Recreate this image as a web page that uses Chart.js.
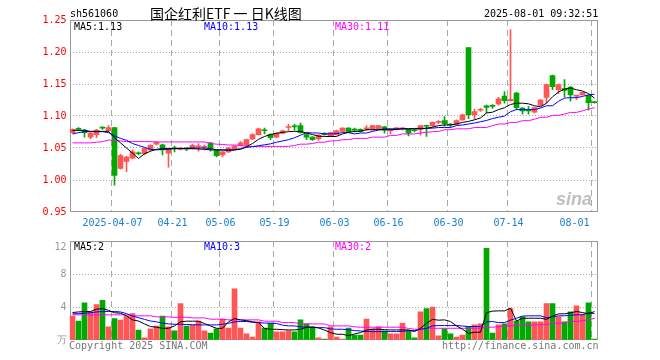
<!DOCTYPE html>
<html><head><meta charset="utf-8">
<script src="https://cdn.jsdelivr.net/npm/chart.js@4.4.1/dist/chart.umd.min.js"></script>
<style>
html,body{margin:0;padding:0;background:#fff;width:660px;height:360px;overflow:hidden;}
#wrap{position:relative;width:660px;height:360px;}
canvas{position:absolute;left:0;}
.t{position:absolute;font-family:"DejaVu Sans Mono",monospace;font-size:10px;line-height:12px;white-space:pre;color:#000;}
</style></head><body>
<div id="wrap">
<canvas id="k" width="660" height="235" style="top:0;width:660px;height:235px"></canvas>
<canvas id="v" width="660" height="125" style="top:235px;width:660px;height:125px"></canvas>
<div class="t" style="left:70px;top:8px">sh561060</div>
<div class="t" style="left:150px;top:4px;font-family:'Noto Sans CJK SC';font-size:14px;line-height:18px">国企红利ETF 一 日K线图</div>
<div class="t" style="left:484px;top:8px">2025-08-01 09:32:51</div>
<div class="t" style="left:74px;top:21px">MA5:1.13</div>
<div class="t" style="left:204px;top:21px;color:#0000ff">MA10:1.13</div>
<div class="t" style="left:335px;top:21px;color:#ff00ff">MA30:1.11</div>
<div class="t" style="left:74px;top:241px">MA5:2</div>
<div class="t" style="left:204px;top:241px;color:#0000ff">MA10:3</div>
<div class="t" style="left:335px;top:241px;color:#ff00ff">MA30:2</div>
<div class="t" style="left:69px;top:340px;color:#777">Copyright 2025 SINA.COM</div>
<div class="t" style="left:442px;top:340px;color:#777">http://finance.sina.com.cn</div>
<div class="t" style="left:556px;top:189px;font-family:'Liberation Sans';font-style:italic;font-weight:bold;font-size:18px;line-height:20px;color:rgba(170,170,170,0.75)">sina</div>
</div>
<script>
const dates = [
'2025-03-26','2025-03-27','2025-03-28','2025-03-31','2025-04-01','2025-04-02','2025-04-03','2025-04-07','2025-04-08','2025-04-09',
'2025-04-10','2025-04-11','2025-04-14','2025-04-15','2025-04-16','2025-04-17','2025-04-18','2025-04-21','2025-04-22','2025-04-23',
'2025-04-24','2025-04-25','2025-04-28','2025-04-29','2025-04-30','2025-05-06','2025-05-07','2025-05-08','2025-05-09','2025-05-12',
'2025-05-13','2025-05-14','2025-05-15','2025-05-16','2025-05-19','2025-05-20','2025-05-21','2025-05-22','2025-05-23','2025-05-26',
'2025-05-27','2025-05-28','2025-05-29','2025-05-30','2025-06-03','2025-06-04','2025-06-05','2025-06-06','2025-06-09','2025-06-10',
'2025-06-11','2025-06-12','2025-06-13','2025-06-16','2025-06-17','2025-06-18','2025-06-19','2025-06-20','2025-06-23','2025-06-24',
'2025-06-25','2025-06-26','2025-06-27','2025-06-30','2025-07-01','2025-07-02','2025-07-03','2025-07-04','2025-07-07','2025-07-08',
'2025-07-09','2025-07-10','2025-07-11','2025-07-14','2025-07-15','2025-07-16','2025-07-17','2025-07-18','2025-07-21','2025-07-22',
'2025-07-23','2025-07-24','2025-07-25','2025-07-28','2025-07-29','2025-07-30','2025-07-31','2025-08-01'];

const openP = [
1.074,1.080,1.078,1.067,1.071,1.082,1.077,1.082,1.018,1.029,
1.034,1.042,1.041,1.047,1.056,1.055,1.042,1.050,1.048,1.049,
1.049,1.052,1.051,1.058,1.046,1.039,1.044,1.048,1.054,1.054,
1.064,1.071,1.078,1.071,1.067,1.073,1.082,1.084,1.085,1.071,
1.067,1.064,1.073,1.069,1.071,1.076,1.081,1.079,1.079,1.080,
1.079,1.080,1.083,1.077,1.080,1.080,1.079,1.078,1.079,1.085,
1.085,1.090,1.093,1.087,1.087,1.094,1.207,1.102,1.109,1.116,
1.116,1.119,1.131,1.124,1.136,1.1125,1.109,1.106,1.117,1.129,
1.163,1.141,1.143,1.145,1.131,1.133,1.132,1.1215];
const highP = [
1.080,1.082,1.079,1.074,1.079,1.083,1.085,1.082,1.040,1.037,
1.047,1.044,1.050,1.055,1.060,1.056,1.050,1.053,1.051,1.050,
1.056,1.057,1.055,1.059,1.047,1.045,1.051,1.054,1.060,1.064,
1.072,1.081,1.081,1.072,1.074,1.078,1.087,1.087,1.089,1.073,
1.068,1.071,1.074,1.075,1.078,1.082,1.082,1.081,1.080,1.085,
1.085,1.085,1.084,1.080,1.082,1.082,1.079,1.079,1.085,1.086,
1.091,1.093,1.099,1.088,1.094,1.103,1.207,1.111,1.112,1.117,
1.118,1.129,1.138,1.235,1.137,1.113,1.115,1.114,1.126,1.150,
1.164,1.150,1.157,1.146,1.132,1.137,1.133,1.122];
const lowP = [
1.073,1.077,1.067,1.064,1.066,1.079,1.076,0.992,1.017,1.013,
1.033,1.039,1.039,1.046,1.055,1.039,1.020,1.044,1.047,1.046,
1.048,1.045,1.047,1.045,1.036,1.036,1.043,1.047,1.053,1.053,
1.063,1.070,1.072,1.063,1.066,1.072,1.077,1.078,1.073,1.063,
1.062,1.062,1.070,1.068,1.070,1.075,1.074,1.075,1.075,1.077,
1.078,1.079,1.073,1.072,1.078,1.078,1.069,1.075,1.070,1.068,
1.083,1.088,1.084,1.083,1.086,1.093,1.096,1.095,1.107,1.105,
1.112,1.117,1.120,1.123,1.110,1.103,1.103,1.105,1.116,1.120,
1.141,1.135,1.130,1.123,1.126,1.133,1.109,1.120];
const closeP = [
1.079,1.079,1.074,1.073,1.078,1.081,1.082,1.007,1.038,1.036,
1.044,1.041,1.049,1.054,1.059,1.047,1.049,1.049,1.050,1.048,
1.054,1.053,1.052,1.049,1.038,1.044,1.050,1.053,1.058,1.063,
1.071,1.080,1.077,1.066,1.073,1.077,1.083,1.083,1.074,1.067,
1.063,1.070,1.071,1.074,1.077,1.081,1.075,1.078,1.076,1.081,
1.085,1.085,1.078,1.078,1.081,1.081,1.073,1.077,1.085,1.084,
1.090,1.091,1.088,1.086,1.093,1.102,1.102,1.107,1.110,1.1135,
1.115,1.127,1.124,1.126,1.113,1.108,1.108,1.113,1.125,1.149,
1.146,1.149,1.140,1.133,1.132,1.137,1.121,1.121];

const ma5 = [
1.0775,1.0775,1.0775,1.076,1.076,1.076,1.076,1.066,1.058,1.050,
1.042,1.0335,1.041,1.045,1.048,1.049,1.049,1.049,1.049,1.049,
1.049,1.0485,1.048,1.047,1.047,1.047,1.047,1.047,1.048,1.052,
1.057,1.0635,1.068,1.071,1.073,1.0744,1.0755,1.076,1.076,1.0734,
1.071,1.0685,1.068,1.068,1.068,1.072,1.0745,1.076,1.076,1.0786,
1.0786,1.0786,1.0786,1.0786,1.079,1.080,1.080,1.080,1.080,1.081,
1.0825,1.085,1.086,1.086,1.0875,1.090,1.0916,1.094,1.097,1.1047,
1.106,1.110,1.113,1.118,1.120,1.120,1.119,1.116,1.1145,1.120,
1.130,1.1375,1.142,1.1437,1.141,1.139,1.135,1.128];
const ma10 = [
1.072,1.074,1.0755,1.0755,1.0755,1.0755,1.074,1.069,1.065,1.062,
1.057,1.054,1.051,1.048,1.047,1.048,1.048,1.049,1.049,1.050,
1.050,1.050,1.050,1.049,1.047,1.047,1.046,1.047,1.049,1.051,
1.052,1.0536,1.055,1.0565,1.059,1.061,1.063,1.066,1.070,1.074,
1.0735,1.0734,1.072,1.072,1.0725,1.074,1.074,1.072,1.0734,1.0734,
1.076,1.078,1.080,1.080,1.080,1.080,1.080,1.0806,1.0806,1.0806,
1.081,1.082,1.082,1.082,1.085,1.086,1.0875,1.089,1.091,1.093,
1.096,1.098,1.100,1.1067,1.110,1.110,1.110,1.110,1.1125,1.116,
1.116,1.123,1.128,1.1286,1.1286,1.1306,1.133,1.134];
const ma30 = [
1.058,1.058,1.058,1.058,1.059,1.060,1.0625,1.062,1.061,1.060,
1.060,1.060,1.060,1.060,1.0595,1.0595,1.0595,1.0595,1.0595,1.0595,
1.0595,1.0595,1.0595,1.057,1.056,1.0555,1.0547,1.0547,1.054,1.0525,
1.0525,1.0525,1.0525,1.0525,1.0525,1.0525,1.0525,1.054,1.056,1.056,
1.057,1.059,1.059,1.061,1.0614,1.063,1.063,1.065,1.065,1.065,
1.067,1.067,1.067,1.0697,1.0697,1.0719,1.0719,1.072,1.0735,1.0745,
1.0755,1.0758,1.0786,1.0786,1.080,1.080,1.080,1.082,1.082,1.082,
1.085,1.0875,1.0875,1.090,1.090,1.0927,1.0927,1.095,1.098,1.098,
1.101,1.101,1.103,1.1056,1.1056,1.108,1.111,1.113];

const volume = [
2.9,2.3,4.5,3.4,4.3,4.8,1.6,2.6,2.4,2.9,
3.2,1.2,0.25,1.35,1.7,2.9,1.6,1.1,4.4,1.7,
1.8,2.3,1.1,0.85,1.35,2.55,1.45,6.2,1.45,0.75,
0.35,2.2,1.45,2.05,1.0,1.0,1.1,1.0,2.45,1.95,
1.6,0.25,0.12,1.6,0.35,0.12,1.45,0.6,0.6,2.55,
1.35,1.6,1.1,0.75,0.75,2.05,1.1,0.25,3.4,3.8,
4.0,0.5,1.35,0.75,0.35,0.6,1.6,1.85,1.95,11.1,
0.85,1.85,1.95,3.8,2.3,2.8,2.2,2.2,2.2,4.4,
4.4,2.8,2.2,3.4,4.15,3.15,4.5,0.12];
const vma5 = [
3.33,3.4,3.45,3.45,3.74,3.8,3.6,3.3,3.25,2.93,
2.44,2.3,1.95,1.63,1.55,1.42,1.42,1.71,2.2,2.28,
2.28,2.28,2.0,1.7,1.42,1.42,2.2,2.6,2.44,2.35,
2.2,2.11,1.4,1.3,1.3,1.25,1.22,1.22,1.3,1.55,
1.55,1.46,1.2,0.9,0.7,0.69,0.53,0.73,0.9,1.2,
1.3,1.3,1.25,1.22,1.22,1.22,1.22,1.02,1.42,2.03,
2.5,2.4,2.44,2.24,1.71,1.3,0.81,0.94,0.94,3.3,
3.5,3.53,3.53,3.85,2.3,2.64,2.64,2.64,2.64,2.5,
2.9,3.17,3.17,3.3,3.45,3.33,3.17,3.45];
const vma10 = [
3.17,3.2,3.25,3.3,3.4,3.45,3.45,3.45,3.4,3.2,
2.9,2.7,2.5,2.3,2.2,2.05,1.95,1.91,1.91,1.88,
1.85,1.83,1.83,1.83,1.83,1.9,2.03,2.2,2.24,2.24,
2.15,2.11,2.05,2.03,2.0,1.8,1.71,1.71,1.6,1.55,
1.55,1.5,1.5,1.35,1.3,1.3,1.25,1.14,1.1,1.02,
1.02,1.02,1.02,1.02,1.02,1.05,1.14,1.14,1.3,1.4,
1.71,1.75,1.75,1.75,1.75,1.7,1.63,1.63,1.63,2.2,
2.24,2.11,2.11,2.4,2.64,2.9,2.93,2.93,2.93,2.7,
2.8,2.93,2.93,3.0,3.05,3.05,3.3,3.2];
const vma30 = [
3.05,3.05,3.05,3.05,3.05,3.05,3.05,3.05,3.05,3.05,
2.93,2.93,2.93,2.93,2.8,2.8,2.8,2.75,2.75,2.75,
2.68,2.68,2.68,2.52,2.52,2.52,2.44,2.44,2.44,2.44,
2.44,2.44,2.28,2.28,2.28,2.11,2.11,2.11,1.95,1.95,
1.95,1.95,1.95,1.71,1.71,1.71,1.71,1.6,1.55,1.55,
1.55,1.55,1.55,1.55,1.55,1.55,1.4,1.3,1.3,1.42,
1.42,1.42,1.42,1.42,1.42,1.42,1.42,1.42,1.42,1.55,
1.55,1.6,1.71,1.71,1.75,1.83,1.83,1.83,1.83,1.9,
2.03,2.03,2.1,2.24,2.24,2.35,2.44,2.64];

const priceTicks = [0.95, 1.00, 1.05, 1.10, 1.15, 1.20, 1.25];
const volTicks = [0, 4, 8, 12];
const xTickDates = ['2025-04-07','2025-04-21','2025-05-06','2025-05-19','2025-06-03','2025-06-16','2025-06-30','2025-07-14','2025-08-01'];
const xTickText = ['2025-04-07','04-21','05-06','05-19','06-03','06-16','06-30','07-14','08-01'];

const UP = '#ff5555', DOWN = '#00a800';
const candleColors = closeP.map((c, i) => c >= openP[i] ? UP : DOWN);
const tickIndex = new Map(xTickDates.map((d, k) => [dates.indexOf(d), k]));

const MONO = 'DejaVu Sans Mono';
const PLOT_LEFT = 69.5, PLOT_RIGHT = 597.5;

const framePlugin = {
  id: 'frame',
  beforeDatasetsDraw(chart) {
    const a = chart.chartArea, ctx = chart.ctx;
    ctx.save();
    ctx.strokeStyle = '#999999';
    ctx.lineWidth = 1;
    const x1 = Math.ceil(a.left) + 0.5, x2 = Math.floor(a.right) + 0.5;
    const y1 = Math.round(a.top) + 0.5, y2 = Math.round(a.bottom) - 0.5;
    ctx.strokeRect(x1, y1, x2 - x1, y2 - y1);
    ctx.restore();
  }
};

function xScale(showLabels, height) {
  return {
    type: 'category',
    offset: true,
    grid: {
      offset: true, drawTicks: false, lineWidth: 1,
      color: c => tickIndex.has(c.index) ? '#aaaaaa' : 'rgba(0,0,0,0)'
    },
    border: { display: false, dash: [6, 4] },
    ticks: {
      display: showLabels, autoSkip: false, maxRotation: 0, minRotation: 0,
      padding: 5, labelOffset: -2, color: '#1a80d0',
      font: { family: MONO, size: 10 },
      callback: (v, i) => {
        if (!tickIndex.has(i)) return '';
        const k = tickIndex.get(i);
        return k === xTickText.length - 1 ? xTickText[k] + '      ' : xTickText[k];
      }
    },
    afterFit: s => { s.height = height; }
  };
}

function yScale(min, max, ticks, color, fmt) {
  return {
    type: 'linear', min: min, max: max,
    afterBuildTicks: s => { s.ticks = ticks.map(v => ({ value: v })); },
    grid: {
      drawTicks: false, lineWidth: 1,
      color: c => (c.tick && (c.tick.value === min || c.tick.value === max)) ? 'rgba(0,0,0,0)' : '#aaaaaa'
    },
    border: { display: false, dash: [1, 2] },
    ticks: { padding: 3, color: color, font: { family: MONO, size: 10 }, callback: fmt },
    afterFit: s => { s.width = PLOT_LEFT; s.paddingTop = 0; s.paddingBottom = 0; }
  };
}

function lineDs(data, color) {
  return { type: 'line', data: data, borderColor: color, borderWidth: 1, pointRadius: 0, tension: 0, fill: false, order: 1 };
}

const common = {
  responsive: false, animation: false, events: [],
  plugins: { legend: { display: false }, tooltip: { enabled: false } }
};

new Chart(document.getElementById('k'), {
  data: {
    labels: dates,
    datasets: [
      { type: 'bar', data: lowP.map((l, i) => [l, highP[i]]), backgroundColor: candleColors, barThickness: 1, grouped: false, order: 3 },
      { type: 'bar', data: openP.map((o, i) => [o, closeP[i]]), backgroundColor: candleColors, barThickness: 5, minBarLength: 1, grouped: false, order: 2 },
      lineDs(ma5, '#000000'),
      lineDs(ma10, '#0000ff'),
      lineDs(ma30, '#ff00ff')
    ]
  },
  options: Object.assign({}, common, {
    layout: { padding: { left: 0, right: 660 - PLOT_RIGHT, top: 20, bottom: 0 } },
    scales: {
      x: xScale(true, 23),
      y: yScale(0.95, 1.25, priceTicks, '#ff0000', v => v.toFixed(2))
    }
  }),
  plugins: [framePlugin]
});

new Chart(document.getElementById('v'), {
  data: {
    labels: dates,
    datasets: [
      { type: 'bar', data: volume, backgroundColor: candleColors, barThickness: 5, grouped: false, order: 2 },
      lineDs(vma5, '#000000'),
      lineDs(vma10, '#0000ff'),
      lineDs(vma30, '#ff00ff')
    ]
  },
  options: Object.assign({}, common, {
    layout: { padding: { left: 0, right: 660 - PLOT_RIGHT, top: 6, bottom: 0 } },
    scales: {
      x: xScale(false, 20),
      y: yScale(0, 12, volTicks, '#999999', v => v === 12 ? ['', '12'] : (v === 0 ? '万' : String(v)))
    }
  }),
  plugins: [framePlugin]
});
</script>
</body></html>
